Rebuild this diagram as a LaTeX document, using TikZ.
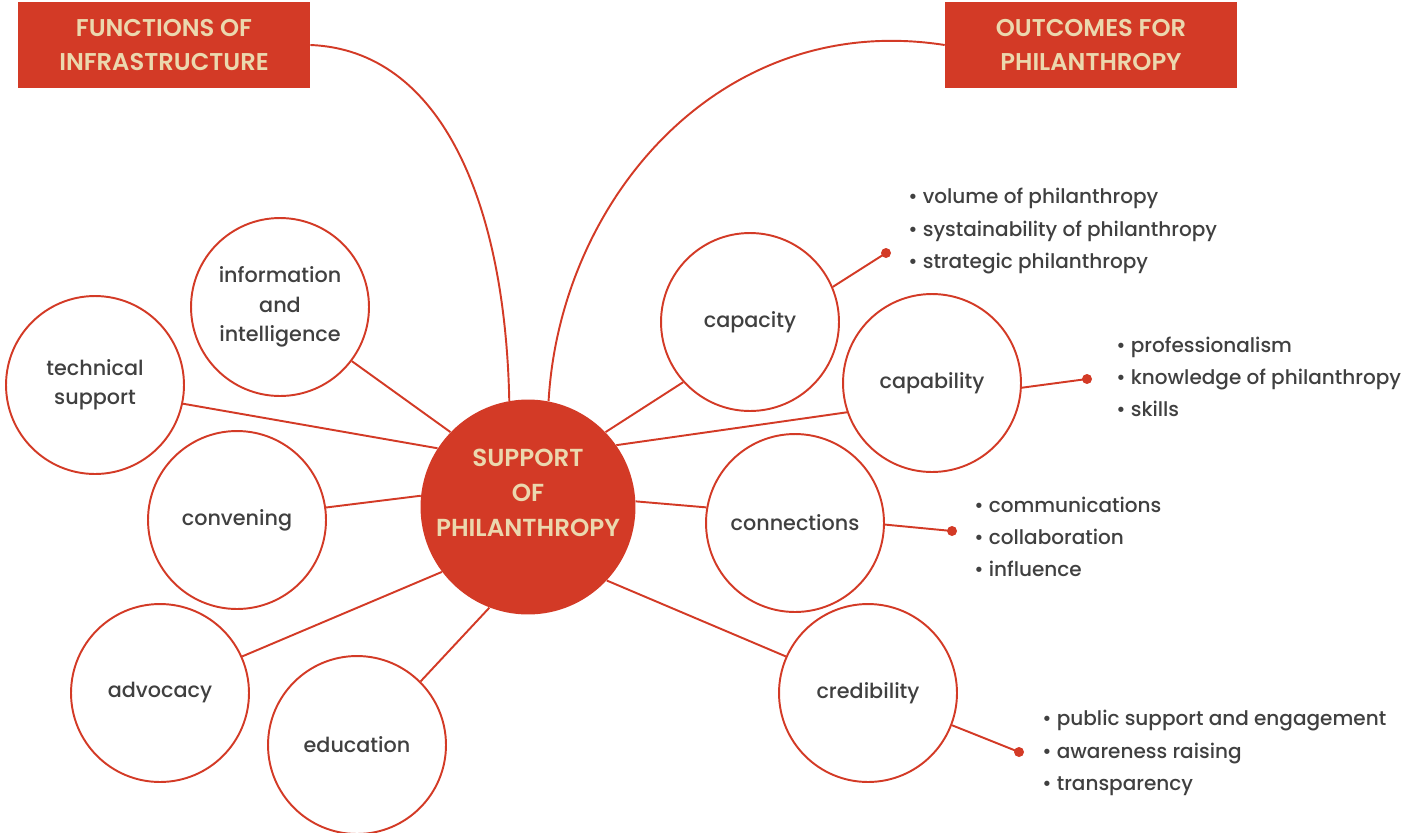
\documentclass[tikz,border=0pt]{standalone}
\usepackage{fontspec}
\setmainfont{Poppins}[BoldFont={Poppins SemiBold}]
\newfontfamily\midweight{Poppins Medium}
\definecolor{brick}{HTML}{D33A26}
\definecolor{sand}{HTML}{EBD8AE}
\definecolor{ink}{HTML}{404040}
\begin{document}
\begin{tikzpicture}[x=0.02cm,y=-0.02cm,
	hub/.style={circle,fill=brick,minimum size=4.3cm,inner sep=0pt},
	hubtext/.style={align=center,inner sep=0pt,text=sand,font=\fontsize{14}{19.8}\selectfont\bfseries},
	topic/.style={circle,draw=brick,line width=1.1pt,fill=white,minimum size=3.56cm,inner sep=0pt,align=center,text=ink,font=\fontsize{11.8}{16.7}\selectfont\midweight},
	banner/.style={fill=brick,minimum width=5.84cm,minimum height=1.72cm,inner sep=0pt,align=center,text=sand,font=\fontsize{13.8}{19.8}\selectfont\bfseries},
	link/.style={draw=brick,line width=1.1pt},
	tip/.style={circle,fill=brick,inner sep=0pt,minimum size=0.2cm},
	notes/.style={align=left,anchor=west,inner sep=0pt,text=ink,font=\fontsize{11.4}{18.4}\selectfont\midweight}]
		\useasboundingbox (0,0) rectangle (1415,832);
		\node[banner] (funcs) at (164,45) {FUNCTIONS OF\\INFRASTRUCTURE};
		\node[banner] (outcomes) at (1091,45) {OUTCOMES FOR\\PHILANTHROPY};
		\node[hub] (hub) at (528,507) {};
		\node[hubtext] (hubtext) at (528,493) {SUPPORT\\OF\\PHILANTHROPY};
		\node[topic] (info) at (280,307) {information\\and\\intelligence};
		\node[topic] (techsup) at (95,385) {technical\\support};
		\node[topic] (conven) at (237,520) {convening};
		\node[topic] (advoc) at (160,693) {advocacy};
		\node[topic] (educ) at (357,745) {education};
		\node[topic] (capac) at (750,322) {capacity};
		\node[topic] (capab) at (932,383) {capability};
		\node[topic] (connect) at (795,523) {connections};
		\node[topic] (cred) at (868,693) {credibility};
		\draw[link] (funcs.east) .. controls (440,50) and (505,200) .. (hub.100);
		\draw[link] (outcomes.west) .. controls (720,10) and (560,200) .. (hub.79);
		\foreach \t/\a/\b in {info/136/323,techsup/147/348,conven/174/8,advoc/217/24,educ/249/45,capac/44/222,capab/35/199,connect/3/170,cred/317/156}
			\draw[link] (hub.\a) -- (\t.\b);
		\node[tip] (capacdot) at (886,253) {};
		\node[tip] (capabdot) at (1087,379) {};
		\node[tip] (connectdot) at (952,531) {};
		\node[tip] (creddot) at (1019,752) {};
		\draw[link] (capac.23) -- (capacdot.center);
		\draw[link] (capab.357) -- (capabdot.center);
		\draw[link] (connect.359) -- (connectdot.center);
		\draw[link] (cred.339) -- (creddot.center);
		\node[notes] (capacnotes) at (908,231) {• volume of philanthropy\\• systainability of philanthropy\\• strategic philanthropy};
		\node[notes] (capabnotes) at (1116,377) {• professionalism\\• knowledge of philanthropy\\• skills};
		\node[notes] (connectnotes) at (974,537) {• communications\\• collaboration\\• influence};
		\node[notes] (crednotes) at (1042,753) {• public support and engagement\\• awareness raising\\• transparency};
\end{tikzpicture}
\end{document}
